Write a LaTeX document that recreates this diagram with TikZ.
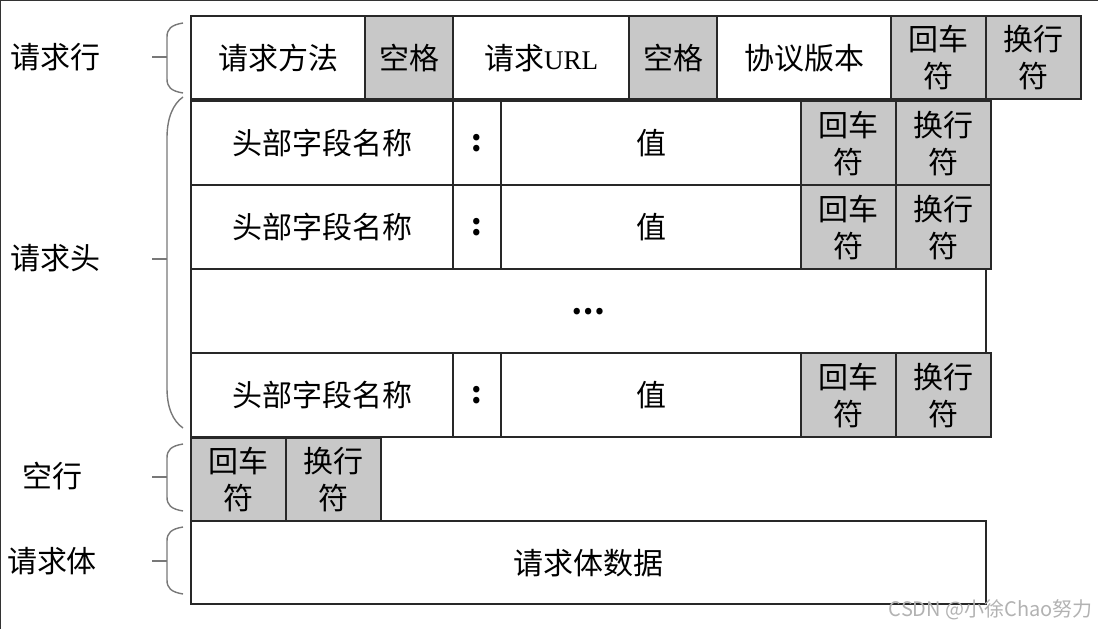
\documentclass[tikz,border=0pt]{standalone}
\usepackage{fontspec}
\setmainfont{Liberation Serif}
\newfontfamily\cjk{Noto Sans CJK SC}
\definecolor{cellgray}{RGB}{200,200,200}
\definecolor{cellline}{RGB}{40,40,40}
\definecolor{bracegray}{RGB}{120,120,120}
\begin{document}
\begin{tikzpicture}[x=1pt,y=-1pt,
  cell/.style={draw=cellline, line width=2.4pt, anchor=north west, inner sep=0pt,
    align=center, font=\cjk\fontsize{30}{37}\selectfont},
  gcell/.style={cell, fill=cellgray},
  lbl/.style={font=\cjk\fontsize{30}{36}\selectfont, inner sep=0pt},
  brace/.style={draw=bracegray, line width=1.4pt}]
\useasboundingbox (0,0) rectangle (1098,629);
\draw[line width=1.5pt, black!80] (0,629) -- (0,0) -- (1098,0);

% request line
\node[cell, minimum width=174pt, minimum height=83pt] (rm) at (190,15) {请求方法};
\node[gcell, minimum width=88pt, minimum height=83pt] (sp1) at (364,15) {空格};
\node[cell, minimum width=176pt, minimum height=83pt] (url) at (452,15) {请求{\rmfamily\fontsize{27}{30}\selectfont URL}};
\node[gcell, minimum width=88pt, minimum height=83pt] (sp2) at (628,15) {空格};
\node[cell, minimum width=174pt, minimum height=83pt] (ver) at (716,15) {协议版本};
\node[gcell, minimum width=95pt, minimum height=83pt] (cr0) at (890,15) {回车\\符};
\node[gcell, minimum width=95pt, minimum height=83pt] (lf0) at (985,15) {换行\\符};

% header rows
\foreach \y/\n in {100/1,184/2,352/3}{
  \node[cell, minimum width=262pt, minimum height=84pt] (name\n) at (190,\y) {头部字段名称};
  \node[cell, minimum width=48pt, minimum height=84pt] (colon\n) at (452,\y) {\bfseries :};
  \node[cell, minimum width=300pt, minimum height=84pt] (val\n) at (500,\y) {值};
  \node[gcell, minimum width=95pt, minimum height=84pt] (cr\n) at (800,\y) {回车\\符};
  \node[gcell, minimum width=95pt, minimum height=84pt] (lf\n) at (895,\y) {换行\\符};
}
\node[cell, minimum width=795pt, minimum height=84pt] (dots) at (190,268) {\bfseries …};

% blank line
\node[gcell, minimum width=95pt, minimum height=83pt] (crb) at (190,437) {回车\\符};
\node[gcell, minimum width=95pt, minimum height=83pt] (lfb) at (285,437) {换行\\符};

% body
\node[cell, minimum width=795pt, minimum height=83pt] (body) at (190,520) {请求体数据};

% labels
\node[lbl] (l1) at (55,57) {请求行};
\node[lbl] (l2) at (55,258) {请求头};
\node[lbl] (l3) at (52,476) {空行};
\node[lbl] (l4) at (52,561) {请求体};

% braces
\draw[brace] (183,23) .. controls (171,25) and (167,29) .. (167,37) -- (167,79) .. controls (167,87) and (171,91) .. (183,93);
\draw[brace] (152,57) -- (167,57);
\draw[brace] (183,97) .. controls (173,104) and (167,118) .. (167,138) -- (167,388) .. controls (167,408) and (173,421) .. (183,428);
\draw[brace] (152,259) -- (167,259);
\draw[brace] (183,444) .. controls (171,446) and (167,450) .. (167,458) -- (167,497) .. controls (167,505) and (171,509) .. (183,511);
\draw[brace] (152,477) -- (167,477);
\draw[brace] (183,527) .. controls (171,529) and (167,533) .. (167,541) -- (167,580) .. controls (167,588) and (171,592) .. (183,594);
\draw[brace] (152,561) -- (167,561);

% watermark
\node[font=\cjk\fontsize{20}{24}\selectfont, text=black!30, anchor=east, inner sep=0pt] (wm) at (1093,610) {CSDN @小徐Chao努力};
\end{tikzpicture}
\end{document}
